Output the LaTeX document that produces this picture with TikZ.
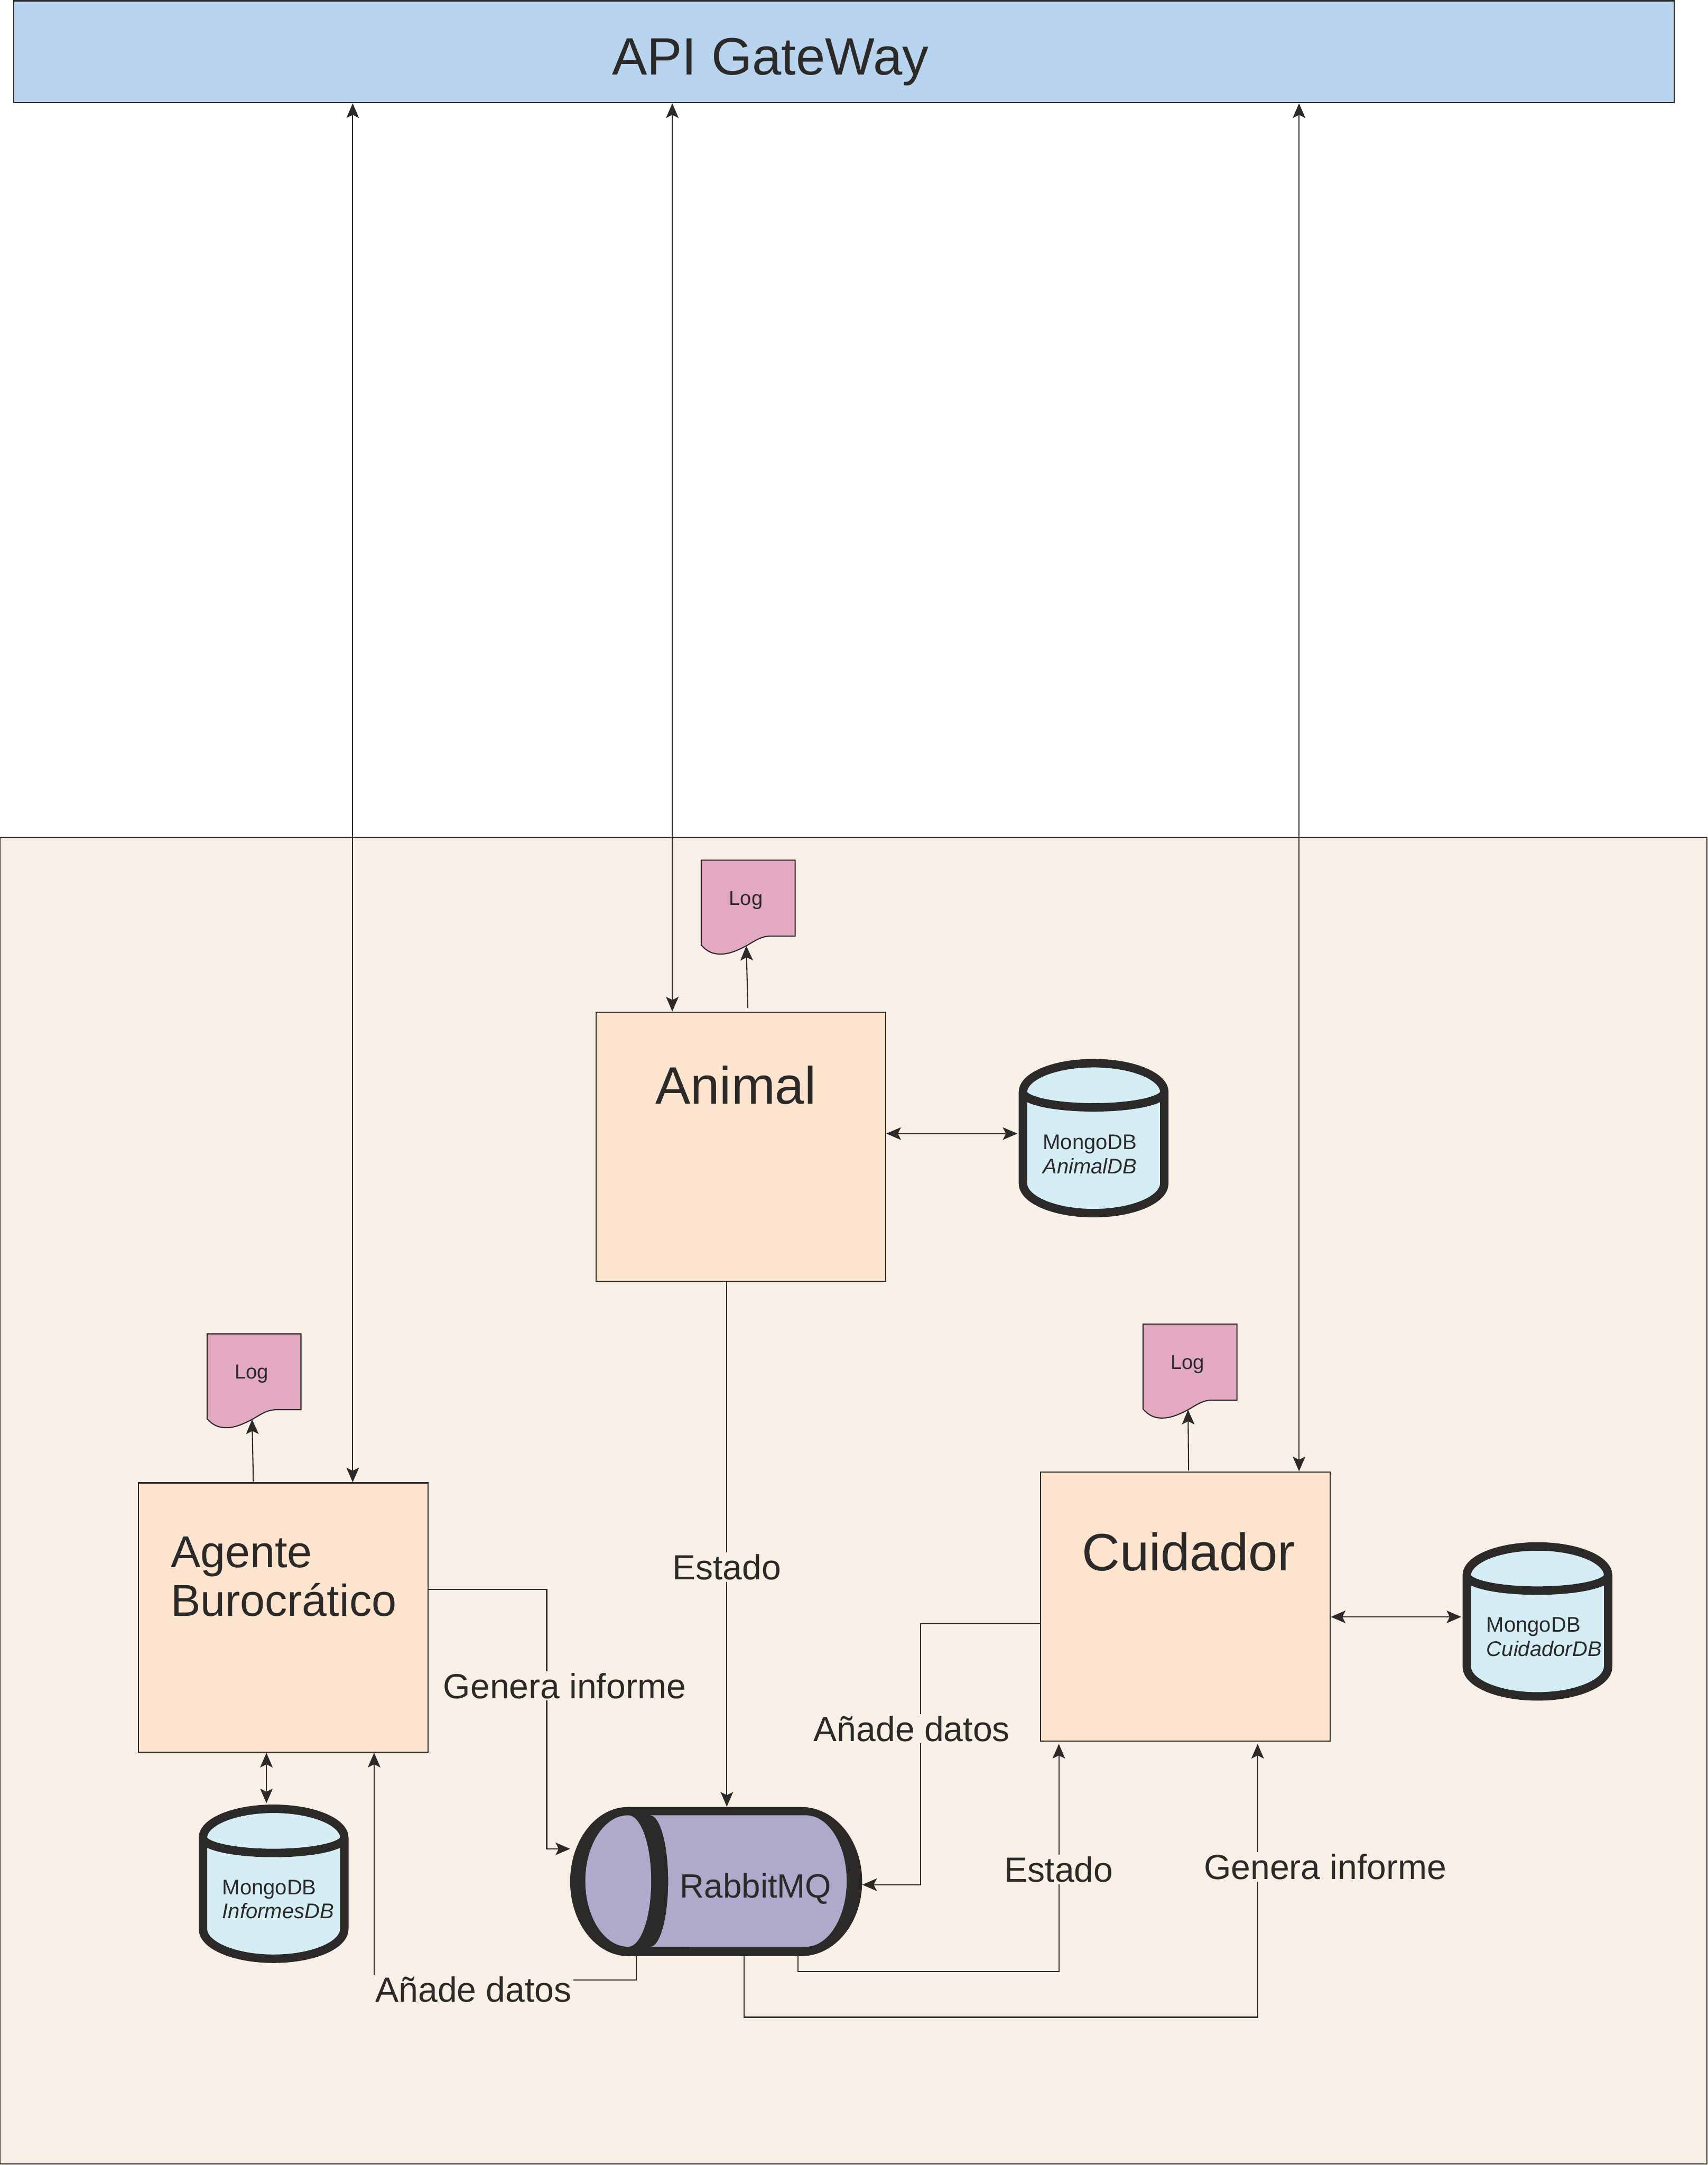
\documentclass[tikz,border=0pt]{standalone}
\usepackage{fontspec}
\setmainfont{Liberation Sans}
\usetikzlibrary{arrows.meta, positioning, shapes.geometric}

\definecolor{inkdark}{HTML}{2B2A29}
\definecolor{panelbg}{HTML}{F8F0E6}
\definecolor{gatewaybg}{HTML}{B8D4EE}
\definecolor{servicebg}{HTML}{FCE4CF}
\definecolor{logbg}{HTML}{E3A8C2}
\definecolor{dbbg}{HTML}{D5EEF6}
\definecolor{queuebg}{HTML}{AFAACB}

\tikzset{
    logdoc/.pic={
        \draw[draw=inkdark, line width=0.6pt, fill=logbg]
            (0,0) -- (68,0) -- (68,55) -- (50,55)
            .. controls (43,55) and (38,59) .. (32.6,62)
            .. controls (26,65.5) and (20,68) .. (14,68)
            .. controls (8,68) and (4,66) .. (0,61.5) -- cycle;
        \node[text=inkdark, font=\fontsize{11}{13}\selectfont] (-txt) at (32.3,29) {Log};
        \coordinate (-in) at (32.6,62);
    },
    dbcan/.pic={
        \draw[draw=inkdark, line width=4.6pt, fill=dbbg, line join=round]
            (3,24) arc[start angle=180, end angle=360, x radius=51.2, y radius=21]
            -- (105.4,90) arc[start angle=0, end angle=180, x radius=51.2, y radius=21.6] -- cycle;
        \draw[draw=inkdark, line width=4.6pt]
            (3,24) arc[start angle=180, end angle=0, x radius=51.2, y radius=11];
        \coordinate (-west) at (-1,54);
        \coordinate (-east) at (109,54);
        \coordinate (-north) at (49,-1);
    }
}

\begin{document}
\begin{tikzpicture}[
        x=0.0264cm, y=-0.0264cm,
        service/.style={draw=inkdark, line width=0.6pt, fill=servicebg,
                     minimum width=5.54cm, minimum height=5.15cm, inner sep=0pt},
        title/.style={text=inkdark, font=\fontsize{28.6}{32}\selectfont},
        flowlabel/.style={text=inkdark, fill=panelbg, inner sep=1pt,
                     font=\fontsize{19}{22}\selectfont},
        dbtxt/.style={text=inkdark, align=left, font=\fontsize{11.5}{13}\selectfont},
        arrow/.style={-{Stealth[length=2.8mm, width=2.4mm, inset=0.6mm]}, draw=inkdark, line width=0.6pt},
        both/.style={{Stealth[length=2.8mm, width=2.4mm, inset=0.6mm]}-{Stealth[length=2.8mm, width=2.4mm, inset=0.6mm]},
                     draw=inkdark, line width=0.6pt}
    ]
        \useasboundingbox (0,0) rectangle (1237,1568);
        \node[draw=inkdark, line width=0.6pt, fill=panelbg, minimum width=32.64cm, minimum height=25.37cm,
              inner sep=0pt] (panel) at (618.3,1086.8) {};
        \node[draw=inkdark, line width=0.6pt, fill=gatewaybg, minimum width=31.75cm, minimum height=1.95cm,
              inner sep=0pt] (gateway) at (611.3,37.5) {};
        \node[title] (gatewaytxt) at (558,45) {API GateWay};

        \node[service] (animal) at (536.7,830.5) {};
        \node[service] (agente) at (205.2,1171.5) {};
        \node[service] (cuidador) at (858.7,1163.5) {};
        \node[title] (animaltxt) at (533,786) {Animal};
        \node[title] (cuidadortxt) at (861,1124) {Cuidador};
        \node[text=inkdark, align=left, font=\fontsize{24.3}{26.5}\selectfont] (agentetxt) at (205.5,1142) {Agente\\Burocrático};

        \pic (loganimal) at (508,623) {logdoc};
        \pic (logagente) at (150,966) {logdoc};
        \pic (logcuidador) at (828,959) {logdoc};

        \pic (animaldb) at (738,767) {dbcan};
        \pic (informesdb) at (144,1307) {dbcan};
        \pic (cuidadordb) at (1059.5,1117) {dbcan};
        \node[dbtxt] (animaldbtxt) at (789.5,836) {MongoDB\\\textit{AnimalDB}};
        \node[dbtxt] (informesdbtxt) at (201.5,1375.5) {MongoDB\\\textit{InformesDB}};
        \node[dbtxt] (cuidadordbtxt) at (1118.5,1185.5) {MongoDB\\\textit{CuidadorDB}};

        % RabbitMQ
        \fill[inkdark] (455,1308.7) -- (580.5,1308.7) arc[start angle=-90, end angle=90, x radius=44, y radius=54]
            -- (455,1416.7) arc[start angle=90, end angle=270, x radius=42, y radius=54] -- cycle;
        \fill[queuebg] (455,1314.7) arc[start angle=-90, end angle=-270, x radius=31, y radius=47.6]
            arc[start angle=90, end angle=-90, x radius=16.7, y radius=47.6] -- cycle;
        \fill[queuebg] (471.6,1314.7) -- (583.7,1314.7) arc[start angle=-90, end angle=90, x radius=29.6, y radius=47.6]
            -- (471,1410) arc[start angle=90, end angle=-90, x radius=13, y radius=47.6] -- cycle;
        \node[inner sep=0pt, minimum width=5.57cm, minimum height=2.85cm] (rabbit) at (518.8,1362.7) {};
        \node[text=inkdark, font=\fontsize{18.3}{22}\selectfont] (rabbittxt) at (547.5,1368) {RabbitMQ};

        \draw[both] (255.5,0 |- gateway.south) -- (255.5,0 |- agente.north);
        \draw[both] (487,0 |- gateway.south) -- (487,0 |- animal.north);
        \draw[both] (941,0 |- gateway.south) -- (941,0 |- cuidador.north);

        \draw[arrow] (541.7,730) -- (loganimal-in);
        \draw[arrow] (183.5,1073) -- (logagente-in);
        \draw[arrow] (861,1065) -- (logcuidador-in);

        \draw[both] (animal.east |- animaldb-west) -- (animaldb-west);
        \draw[both] (cuidador.east |- cuidadordb-west) -- (cuidadordb-west);
        \draw[both] (informesdb-north |- agente.south) -- (informesdb-north);

        \draw[arrow] (526.5,0 |- animal.south) -- (526.5,0 |- rabbit.north);
        \node[flowlabel] (estadoa) at (526.5,1135) {Estado};
        \draw[arrow] (agente.east |- 0,1151) -- (396,1151) -- (396,1339) -- (rabbit.west |- 0,1339);
        \node[flowlabel] (generaa) at (409,1221) {Genera informe};
        \draw[arrow] (cuidador.west |- 0,1176) -- (667,1176) -- (667,1365) -- (rabbit.east |- 0,1365);
        \node[flowlabel] (anadea) at (660.5,1252) {Añade datos};
        \draw[arrow] (578,0 |- rabbit.south) -- (578,1428) -- (767,1428) -- (767,1263);
        \node[flowlabel] (estadob) at (767,1354) {Estado};
        \draw[arrow] (539,0 |- rabbit.south) -- (539,1461) -- (911,1461) -- (911,1263);
        \node[flowlabel] (generab) at (960,1352) {Genera informe};
        \draw[arrow] (461,0 |- rabbit.south) -- (461,1434) -- (271,1434) -- (271,0 |- agente.south);
        \node[flowlabel] (anadeb) at (343,1441) {Añade datos};
    \end{tikzpicture}
\end{document}
